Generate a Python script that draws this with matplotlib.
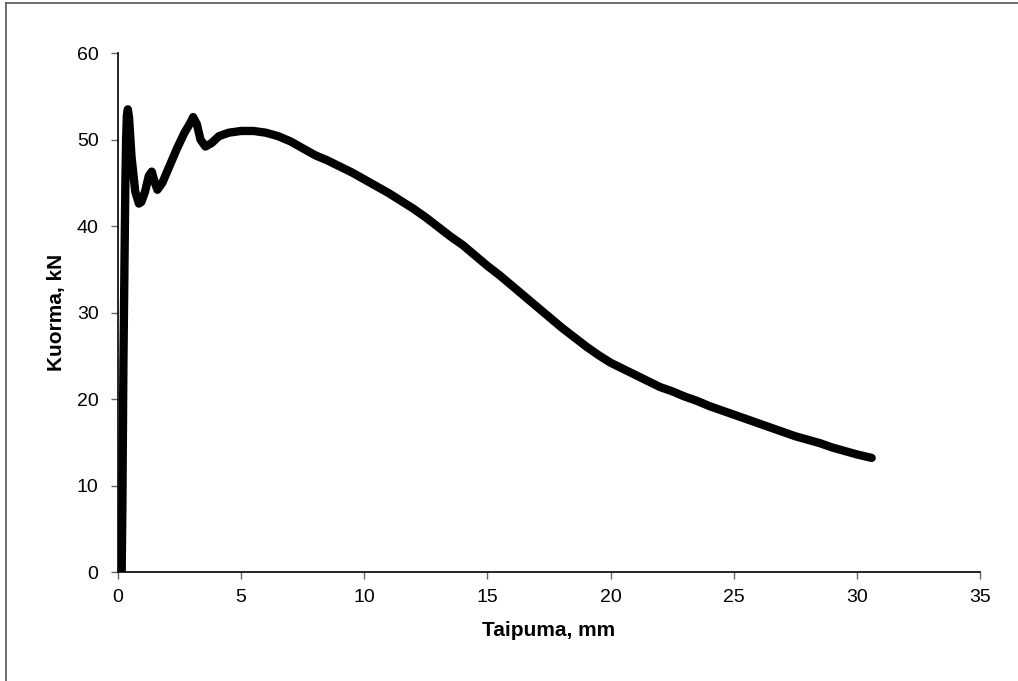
import matplotlib
matplotlib.use("Agg")
import matplotlib.pyplot as plt
from matplotlib.lines import Line2D

plt.rcParams['font.family'] = ['Liberation Sans', 'DejaVu Sans']

# load-deflection curve
taipuma = [0.15, 0.18, 0.2, 0.22, 0.25, 0.28, 0.3, 0.33, 0.36, 0.4, 0.45, 0.55, 0.7, 0.85, 0.95,
           1.1, 1.25, 1.37, 1.5, 1.6, 1.8, 2.1, 2.4, 2.7, 2.95, 3.05, 3.2, 3.35, 3.55, 3.8,
           4.1, 4.5, 5.0, 5.5, 6.0, 6.5, 7.0, 7.5, 8.0, 8.5, 9.0, 9.5, 10.0, 10.5, 11.0,
           11.5, 12.0, 12.5, 13.0, 13.5, 14.0, 14.5, 15.0, 15.5, 16.0, 16.5, 17.0, 17.5,
           18.0, 18.5, 19.0, 19.5, 20.0, 20.5, 21.0, 21.5, 22.0, 22.5, 23.0, 23.5, 24.0,
           24.5, 25.0, 25.5, 26.0, 26.5, 27.0, 27.5, 28.0, 28.5, 29.0, 29.5, 30.0, 30.6]
kuorma = [0.0, 8.0, 16.0, 24.0, 32.0, 40.0, 45.0, 50.0, 52.8, 53.5, 52.5, 48.0, 44.0, 42.6, 42.8,
          44.0, 45.8, 46.3, 45.0, 44.2, 45.0, 47.0, 49.0, 50.8, 52.0, 52.6, 51.8, 50.0, 49.2, 49.6,
          50.4, 50.8, 51.0, 51.0, 50.8, 50.4, 49.8, 49.0, 48.2, 47.6, 46.9, 46.2, 45.4, 44.6, 43.8,
          42.9, 42.0, 41.0, 39.9, 38.8, 37.8, 36.6, 35.4, 34.3, 33.1, 31.9, 30.7, 29.5,
          28.3, 27.2, 26.1, 25.1, 24.2, 23.5, 22.8, 22.1, 21.4, 20.9, 20.3, 19.8, 19.2,
          18.7, 18.2, 17.7, 17.2, 16.7, 16.2, 15.7, 15.3, 14.9, 14.4, 14.0, 13.6, 13.2]

fig = plt.figure(figsize=(10.18, 6.81), dpi=100)
ax = fig.add_axes([0.1159, 0.160, 0.8468, 0.762])

ax.plot(taipuma, kuorma, color='black', lw=6, solid_capstyle='round', solid_joinstyle='round')

ax.set_xlim(0, 35)
ax.set_ylim(0, 60)
ax.set_xticks(range(0, 36, 5))
ax.set_yticks(range(0, 61, 10))
ax.spines['top'].set_visible(False)
ax.spines['right'].set_visible(False)
ax.spines['left'].set_linewidth(1.2)
ax.spines['bottom'].set_linewidth(1.2)
ax.tick_params(direction='out', length=5, width=1, colors='#666666', labelcolor='black',
               labelsize=14)
ax.tick_params(axis='x', pad=7)
ax.tick_params(axis='y', pad=9)
ax.set_xlabel('Taipuma, mm', fontsize=15, fontweight='bold', labelpad=11)
ax.set_ylabel('Kuorma, kN', fontsize=15, fontweight='bold', labelpad=8)

# chart area border (left and top edges visible)
fig.add_artist(Line2D([6 / 1018, 6 / 1018], [0, 1 - 3 / 681], color='#555555', lw=1.2))
fig.add_artist(Line2D([6 / 1018, 1], [1 - 3 / 681, 1 - 3 / 681], color='#555555', lw=1.2))

fig.savefig('out.png', dpi=100)
